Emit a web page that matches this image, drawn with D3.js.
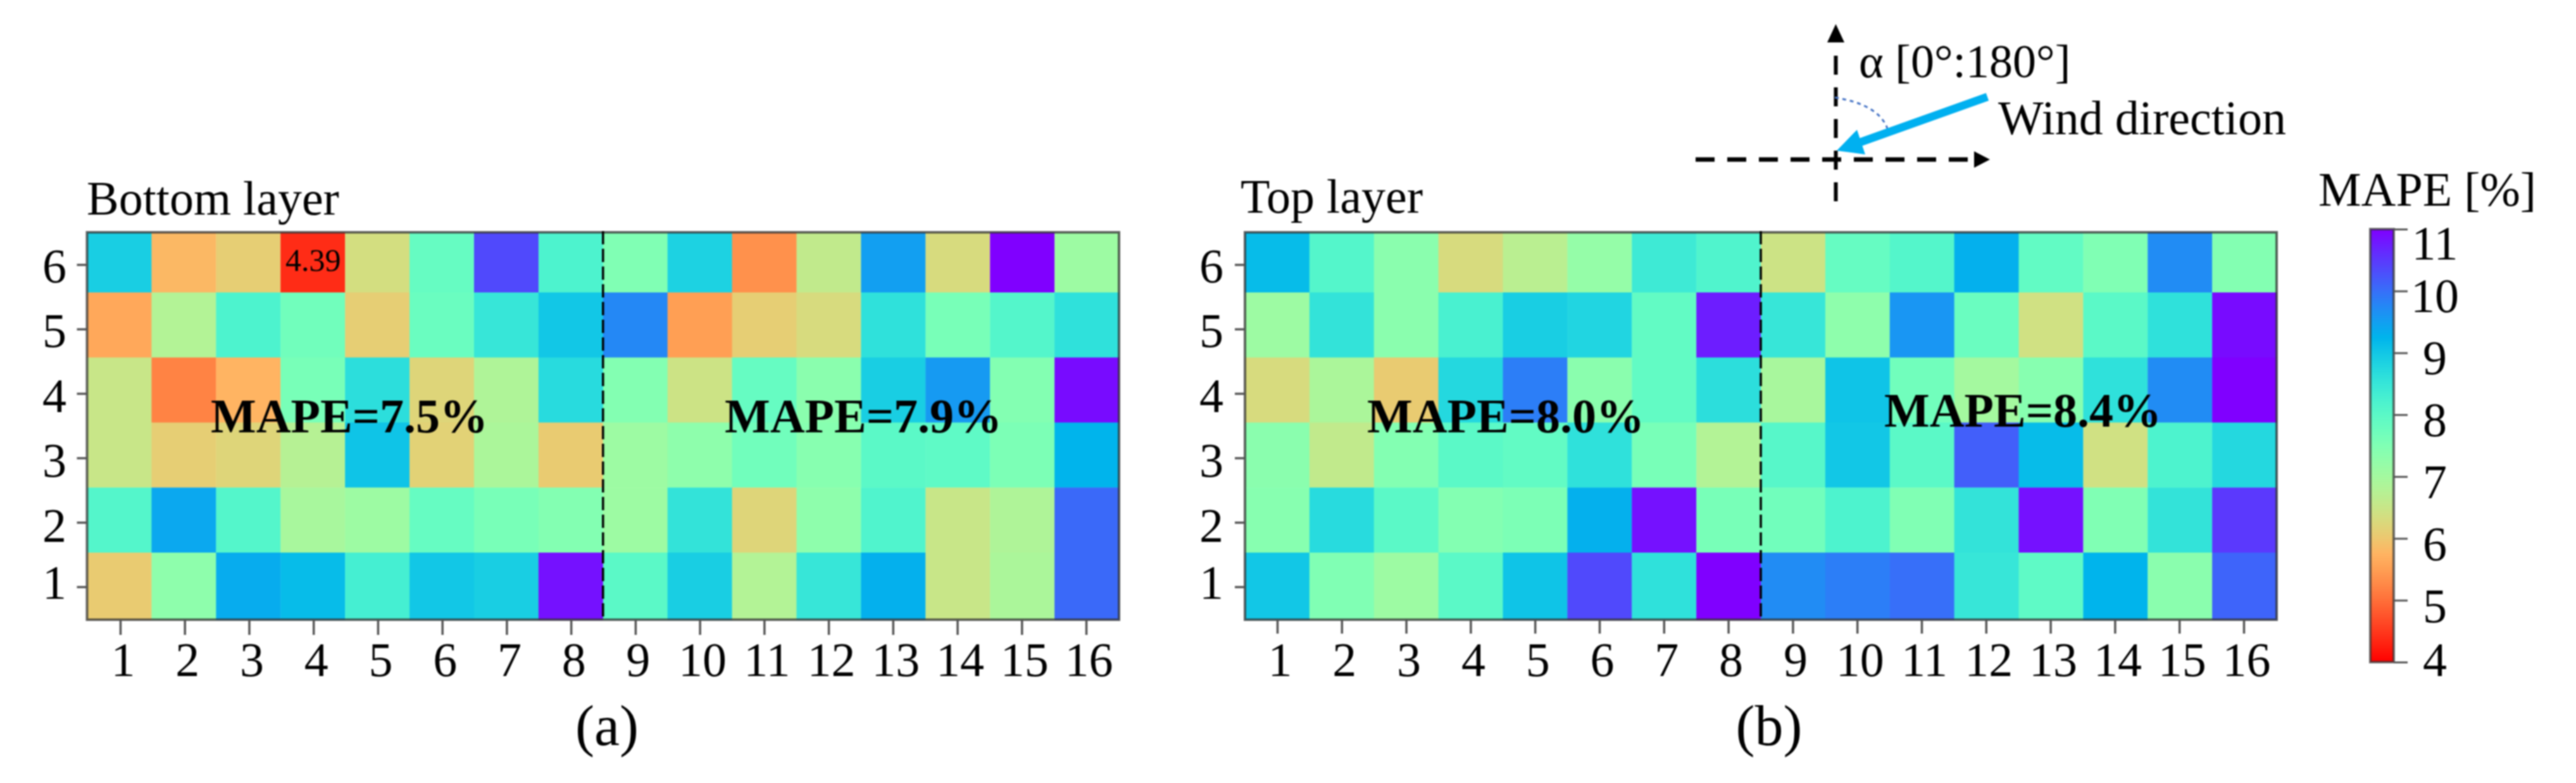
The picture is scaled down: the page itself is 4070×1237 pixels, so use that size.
<!DOCTYPE html>
<html>
<head>
<meta charset="utf-8">
<script src="https://cdn.jsdelivr.net/npm/d3@7"></script>
<style>
html,body{margin:0;padding:0;background:#fff;}
text{font-family:"Liberation Serif",serif;fill:#000;}
</style>
</head>
<body>
<svg id="svg1" width="4070" height="1237" style="display:block"></svg>
<script>
// Columns and rows of the grid
var columns = [1,2,3,4,5,6,7,8,9,10,11,12,13,14,15,16];
var rows = [6,5,4,3,2,1];
var legendTicks = [4,5,6,7,8,9,10,11];

// MAPE values, first line = row 6
var bottomLayer = [
	[8.90,5.80,6.10,4.39,6.35,7.85,10.35,8.20,7.50,8.85,5.35,6.60,9.50,6.30,11.0,7.10],
	[5.60,6.80,8.20,7.70,6.10,7.80,8.50,9.00,9.75,5.50,6.10,6.30,8.60,7.60,8.10,8.60],
	[6.50,5.20,5.75,7.60,8.65,6.20,6.85,8.70,7.45,6.45,7.85,7.35,8.90,9.55,7.45,10.9],
	[6.50,6.10,6.20,6.75,9.05,6.15,6.90,6.05,7.10,7.30,7.70,7.40,8.00,7.95,7.55,9.25],
	[8.10,9.40,8.10,6.95,7.10,7.85,7.60,7.45,7.10,8.55,6.20,7.30,8.15,6.50,6.85,10.05],
	[6.05,7.30,9.35,9.15,8.30,9.00,8.90,10.85,8.00,8.90,6.80,8.50,9.30,6.50,6.90,10.05]
];
var topLayer = [
	[9.15,8.10,7.35,6.30,6.70,7.20,8.40,8.15,6.45,7.85,8.10,9.30,7.90,7.50,9.70,7.45],
	[7.10,8.55,7.35,8.25,8.90,8.80,7.90,10.75,8.50,7.30,9.60,7.80,6.40,8.00,8.60,10.9],
	[6.30,6.90,6.05,8.75,9.85,7.35,7.90,8.65,6.95,9.05,7.70,7.00,7.40,8.60,9.70,11.0],
	[7.35,6.60,7.45,8.00,7.90,8.60,7.60,6.80,8.05,9.00,8.00,10.15,9.15,6.40,8.20,8.75],
	[7.40,8.70,8.00,7.45,7.55,9.30,10.85,7.60,7.70,8.20,7.50,8.55,10.85,7.50,8.55,10.5],
	[9.00,7.50,7.10,8.00,9.05,10.35,8.60,11.0,9.70,9.85,10.0,8.50,7.95,9.25,7.35,10.1]
];

var root = d3.select("#svg1");
var defs = root.append("defs");

// the reference is a soft upscaled bitmap
defs.append("filter").attr("id","soft")
	.attr("filterUnits","userSpaceOnUse")
	.attr("color-interpolation-filters","sRGB")
	.attr("x",0).attr("y",0).attr("width",4070).attr("height",1237)
	.append("feGaussianBlur").attr("stdDeviation",0.8);
var svg = root.append("g").attr("filter","url(#soft)");

// matplotlib "rainbow_r" on 4..11
var scaleT = d3.scaleLinear().domain([4,11]).range([1,0]);
function colour(v){
	var x = scaleT(v);
	var r = Math.abs(2*x-0.5);
	var g = Math.sin(Math.PI*x);
	var b = Math.cos(Math.PI*x/2);
	return d3.rgb(r*255,g*255,b*255).formatHex();
}

function drawPanel(values,left,right,tick1,tick16,labelEnd,tickLen){
	var g = svg.append("g");
	var scaleX = d3.scaleLinear().domain([0.5,16.5]).range([left,right]);
	// row edges of the picture are not quite even
	var scaleY = d3.scaleLinear().domain([0.5,1.5,5.5,6.5]).range([979,873,462,367]);

	rows.forEach(function(r,i){
		g.selectAll(null).data(values[i]).enter().append("rect")
			.attr("x",function(d,j){return scaleX(columns[j]-0.5);})
			.attr("y",scaleY(r+0.5))
			.attr("width",scaleX(1.5)-scaleX(0.5)+0.5)
			.attr("height",scaleY(r-0.5)-scaleY(r+0.5)+0.5)
			.attr("fill",function(d){return colour(d);});
	});

	// frame
	g.append("rect").attr("x",left).attr("y",367)
		.attr("width",right-left).attr("height",979-367)
		.attr("fill","none").attr("stroke","#333").attr("stroke-opacity",0.75).attr("stroke-width",4);

	// divider between 8 and 9
	g.append("line")
		.attr("x1",scaleX(8.5)).attr("x2",scaleX(8.5))
		.attr("y1",365).attr("y2",981)
		.attr("stroke","#000").attr("stroke-width",3.5).attr("stroke-dasharray","21,7");

	// axis X
	var tickX = d3.scaleLinear().domain([1,16]).range([tick1,tick16]);
	var axisX = d3.axisBottom(tickX).tickValues(columns).tickFormat(d3.format("d")).tickSize(tickLen);
	var gAxisX = g.append("g").attr("transform","translate(0,979)").call(axisX);
	gAxisX.select(".domain").remove();
	gAxisX.selectAll("line").attr("stroke","#555").attr("stroke-width",3.5);
	gAxisX.selectAll("text")
		.attr("font-size",76).attr("font-family","Liberation Serif")
		.attr("dy",0).attr("x",4).attr("y",89);

	// axis Y
	var tickY = d3.scaleLinear().domain([1,6]).range([927,418]);
	var labelY = d3.scaleLinear().domain([1,2,6]).range([945,855,445]);
	var axisY = d3.axisLeft(tickY).tickValues(rows).tickFormat(d3.format("d")).tickSize(16);
	var gAxisY = g.append("g").attr("transform","translate("+left+",0)").call(axisY);
	gAxisY.select(".domain").remove();
	gAxisY.selectAll("line").attr("stroke","#555").attr("stroke-width",3.5);
	gAxisY.selectAll("text")
		.attr("font-size",76).attr("font-family","Liberation Serif")
		.attr("dy",0).attr("text-anchor","end")
		.attr("x",labelEnd-left)
		.attr("y",function(d){return labelY(d)-tickY(d);});
}

drawPanel(bottomLayer,137.5,1768,190,1716,105,24);
drawPanel(topLayer,1967,3597,2018,3545,1933,22);

// texts
function label(txt,x,y,size,weight,anchor){
	svg.append("text").text(txt).attr("x",x).attr("y",y)
		.attr("font-size",size).attr("font-weight",weight||"normal")
		.attr("text-anchor",anchor||"start");
}
label("Bottom layer",137,339,76);
label("Top layer",1960,336,76);
label("4.39",451,428,50);
label("MAPE=7.5%",333,683,76,"bold");
label("MAPE=7.9%",1145,683,76,"bold");
label("MAPE=8.0%",2160,683,76,"bold");
label("MAPE=8.4%",2977,674,76,"bold");
label("(a)",959,1177,90,"normal","middle");
label("(b)",2795,1177,90,"normal","middle");

// colour bar
var barY = d3.scaleLinear().domain([4,11]).range([1046,362]);
var labelBar = d3.scaleLinear().domain([4,5,10,11]).range([1067,982,492,409]);
var grad = defs.append("linearGradient").attr("id","barGrad")
	.attr("x1",0).attr("x2",0).attr("y1",1).attr("y2",0);
d3.range(4,11.01,0.25).forEach(function(v){
	grad.append("stop").attr("offset",(v-4)/7).attr("stop-color",colour(v));
});
svg.append("rect").attr("x",3745).attr("y",barY(11))
	.attr("width",37).attr("height",barY(4)-barY(11))
	.attr("fill","url(#barGrad)")
	.attr("stroke","#333").attr("stroke-opacity",0.7).attr("stroke-width",4);
var axisBar = d3.axisRight(barY).tickValues(legendTicks).tickFormat(d3.format("d")).tickSize(22);
var gBar = svg.append("g").attr("transform","translate(3782,0)").call(axisBar);
gBar.select(".domain").remove();
gBar.selectAll("line").attr("stroke","#555").attr("stroke-width",3);
gBar.selectAll("text")
	.attr("font-size",76).attr("font-family","Liberation Serif")
	.attr("dy",0).attr("text-anchor","middle").attr("x",65)
	.attr("y",function(d){return labelBar(d)-barY(d);});
label("MAPE [%]",3663,325,76);

// wind sketch above panel b
var sketch = svg.append("g");
sketch.append("line").attr("x1",2900.5).attr("x2",2900.5).attr("y1",88).attr("y2",318)
	.attr("stroke","#000").attr("stroke-width",6).attr("stroke-dasharray","30,20");
sketch.append("line").attr("x1",2679).attr("x2",3120).attr("y1",252).attr("y2",252)
	.attr("stroke","#000").attr("stroke-width",7).attr("stroke-dasharray","30,20");
sketch.append("path").attr("d","M2900.5,38L2914,67L2887,67Z").attr("fill","#000");
sketch.append("path").attr("d","M3144,252L3119,239L3119,265Z").attr("fill","#000");
sketch.append("path").attr("d","M2899,154Q2968,165 2982,203")
	.attr("fill","none").attr("stroke","#4472c4").attr("stroke-width",3).attr("stroke-dasharray","6,6");
sketch.append("line").attr("x1",3140).attr("y1",153).attr("x2",2930).attr("y2",228)
	.attr("stroke","#00b0f0").attr("stroke-width",13);
sketch.append("path").attr("d","M2902,238L2934,205L2947,244Z").attr("fill","#00b0f0");
label("α [0°:180°]",2937,122,74);
label("Wind direction",3157,212,76);
</script>
</body>
</html>
